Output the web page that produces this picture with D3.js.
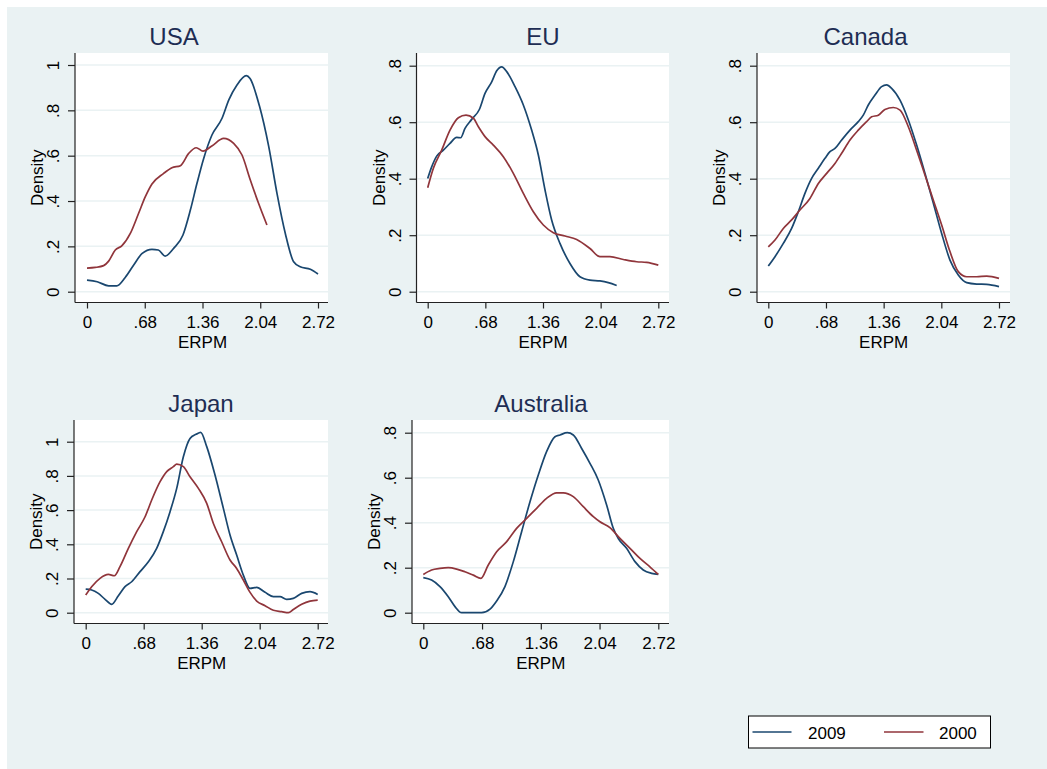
<!DOCTYPE html>
<html><head><meta charset="utf-8">
<script src="https://cdn.jsdelivr.net/npm/d3@7"></script>
<style>html,body{margin:0;padding:0;background:#fff}svg{display:block}text{font-family:"Liberation Sans",Arial,Helvetica,sans-serif}</style>
</head><body>
<script>
// ---------- data (x = ERPM, y = density) ----------
const seriesNames = ["2009", "2000"];
const xTicks = [0, 0.68, 1.36, 2.04, 2.72];
const xTickLabels = ["0", ".68", "1.36", "2.04", "2.72"];
const yTicks1 = [0, 0.2, 0.4, 0.6, 0.8, 1];
const yTicks08 = [0, 0.2, 0.4, 0.6, 0.8];

const usa2009 = [[0,0.051],[0.12,0.044],[0.255,0.026],[0.35,0.026],[0.45,0.063],[0.55,0.118],[0.65,0.169],[0.765,0.187],[0.84,0.184],[0.92,0.157],[1.02,0.191],[1.13,0.25],[1.217,0.36],[1.295,0.478],[1.374,0.588],[1.47,0.69],[1.59,0.765],[1.67,0.846],[1.766,0.912],[1.876,0.953],[1.92,0.94],[2.03,0.82],[2.14,0.64],[2.237,0.434],[2.335,0.257],[2.433,0.132],[2.51,0.11],[2.63,0.099],[2.72,0.078]];
const usa2000 = [[0,0.104],[0.098,0.107],[0.196,0.115],[0.255,0.135],[0.333,0.184],[0.412,0.203],[0.51,0.257],[0.608,0.346],[0.687,0.419],[0.765,0.475],[0.903,0.522],[1.0,0.547],[1.1,0.556],[1.197,0.61],[1.287,0.635],[1.366,0.62],[1.47,0.643],[1.609,0.676],[1.727,0.654],[1.825,0.603],[1.923,0.493],[2.02,0.39],[2.119,0.294]];

const eu2009 = [[0,0.401],[0.047,0.442],[0.106,0.48],[0.185,0.501],[0.263,0.525],[0.342,0.546],[0.389,0.545],[0.44,0.578],[0.519,0.61],[0.609,0.645],[0.676,0.702],[0.755,0.743],[0.814,0.782],[0.873,0.796],[0.932,0.779],[1.03,0.726],[1.128,0.661],[1.226,0.572],[1.305,0.484],[1.384,0.36],[1.462,0.254],[1.56,0.171],[1.678,0.1],[1.796,0.053],[1.914,0.041],[2.032,0.038],[2.13,0.032],[2.229,0.022]];
const eu2000 = [[0,0.368],[0.067,0.437],[0.165,0.501],[0.263,0.572],[0.362,0.616],[0.452,0.625],[0.539,0.614],[0.598,0.584],[0.676,0.549],[0.774,0.519],[0.892,0.478],[1.01,0.419],[1.128,0.348],[1.246,0.283],[1.364,0.236],[1.482,0.209],[1.62,0.197],[1.757,0.185],[1.914,0.153],[2.032,0.124],[2.15,0.124],[2.307,0.114],[2.465,0.106],[2.583,0.104],[2.72,0.094]];

const canada2009 = [[0,0.091],[0.079,0.124],[0.177,0.171],[0.275,0.224],[0.354,0.283],[0.432,0.348],[0.511,0.401],[0.59,0.437],[0.668,0.472],[0.727,0.496],[0.786,0.507],[0.865,0.537],[0.963,0.572],[1.061,0.602],[1.12,0.625],[1.179,0.661],[1.258,0.696],[1.336,0.726],[1.395,0.732],[1.454,0.72],[1.553,0.678],[1.651,0.608],[1.749,0.519],[1.847,0.419],[1.946,0.313],[2.044,0.206],[2.142,0.112],[2.24,0.059],[2.339,0.032],[2.457,0.027],[2.575,0.026],[2.72,0.018]];
const canada2000 = [[0,0.159],[0.079,0.183],[0.177,0.224],[0.275,0.254],[0.373,0.289],[0.491,0.33],[0.59,0.383],[0.688,0.419],[0.786,0.454],[0.865,0.49],[0.963,0.537],[1.061,0.572],[1.159,0.602],[1.218,0.619],[1.297,0.625],[1.375,0.645],[1.474,0.652],[1.553,0.643],[1.651,0.584],[1.749,0.501],[1.847,0.413],[1.946,0.324],[2.044,0.236],[2.142,0.142],[2.24,0.071],[2.339,0.053],[2.457,0.053],[2.575,0.055],[2.72,0.047]];

const japan2009 = [[0,0.138],[0.07,0.133],[0.148,0.113],[0.227,0.078],[0.305,0.049],[0.383,0.099],[0.461,0.152],[0.539,0.181],[0.637,0.24],[0.735,0.298],[0.832,0.376],[0.91,0.474],[0.989,0.591],[1.067,0.727],[1.145,0.912],[1.223,1.019],[1.294,1.043],[1.348,1.055],[1.419,0.971],[1.516,0.805],[1.614,0.61],[1.692,0.454],[1.77,0.337],[1.848,0.22],[1.927,0.142],[2.005,0.148],[2.103,0.119],[2.2,0.094],[2.278,0.094],[2.356,0.078],[2.434,0.084],[2.532,0.113],[2.63,0.123],[2.72,0.107]];
const japan2000 = [[0,0.103],[0.07,0.152],[0.168,0.201],[0.266,0.224],[0.336,0.216],[0.402,0.269],[0.5,0.376],[0.598,0.474],[0.696,0.561],[0.774,0.659],[0.872,0.766],[0.95,0.825],[1.028,0.854],[1.067,0.869],[1.145,0.854],[1.223,0.795],[1.321,0.727],[1.419,0.639],[1.497,0.522],[1.594,0.415],[1.692,0.308],[1.77,0.259],[1.848,0.191],[1.927,0.119],[2.005,0.068],[2.103,0.041],[2.2,0.014],[2.298,0.006],[2.376,0.0],[2.434,0.019],[2.532,0.049],[2.63,0.068],[2.72,0.074]];

const australia2009 = [[0,0.156],[0.096,0.145],[0.193,0.116],[0.289,0.071],[0.367,0.027],[0.444,0],[0.54,0],[0.675,0],[0.772,0.016],[0.849,0.052],[0.945,0.116],[1.042,0.227],[1.138,0.36],[1.235,0.493],[1.331,0.612],[1.427,0.716],[1.524,0.782],[1.582,0.79],[1.667,0.8],[1.736,0.79],[1.833,0.73],[1.929,0.664],[2.025,0.59],[2.122,0.479],[2.199,0.375],[2.257,0.33],[2.353,0.286],[2.45,0.227],[2.546,0.19],[2.643,0.175],[2.72,0.17]];
const australia2000 = [[0,0.17],[0.096,0.19],[0.193,0.197],[0.289,0.2],[0.386,0.194],[0.482,0.182],[0.579,0.167],[0.667,0.153],[0.752,0.212],[0.849,0.271],[0.965,0.316],[1.08,0.375],[1.196,0.419],[1.312,0.464],[1.427,0.508],[1.543,0.533],[1.62,0.533],[1.736,0.516],[1.852,0.471],[1.968,0.427],[2.045,0.404],[2.16,0.378],[2.276,0.33],[2.392,0.286],[2.508,0.241],[2.623,0.204],[2.72,0.17]];

const panelTitles = ["USA", "EU", "Canada", "Japan", "Australia"];

// ---------- layout ----------
const W = 1047, H = 769;
const colors = {"2009": "#1a476f", "2000": "#90353b"};
const bg = "#eaf2f3";
const panels = [
  {title: "USA", s09: usa2009, s00: usa2000, yTicks: yTicks1, yMax: 1, x: [87, 318], y: [291.7, 65], plot: [75, 53, 328, 302.5], titleX: 174, titleY: 45},
  {title: "EU", s09: eu2009, s00: eu2000, yTicks: yTicks08, yMax: 0.8, x: [427.7, 658.3], y: [291.7, 65.7], plot: [416.5, 53, 669, 302.5], titleX: 543, titleY: 45},
  {title: "Canada", s09: canada2009, s00: canada2000, yTicks: yTicks08, yMax: 0.8, x: [768.3, 999], y: [291.7, 65.7], plot: [757, 53, 1010, 302.5], titleX: 865.5, titleY: 45},
  {title: "Japan", s09: japan2009, s00: japan2000, yTicks: yTicks1, yMax: 1, x: [85.7, 317.7], y: [612.7, 441.7], plot: [74, 420, 328, 623.5], titleX: 201, titleY: 412},
  {title: "Australia", s09: australia2009, s00: australia2000, yTicks: yTicks08, yMax: 0.8, x: [423.3, 658.3], y: [612.7, 432.7], plot: [412, 420, 669, 623.5], titleX: 541, titleY: 412}
];

const svg = d3.select("body").append("svg").attr("width", W).attr("height", H);
svg.append("rect").attr("x", 0).attr("y", 0).attr("width", W).attr("height", H).attr("fill", "#fff");
svg.append("rect").attr("x", 7).attr("y", 7).attr("width", W - 7).attr("height", H - 7).attr("fill", bg);

const fmt = v => v === 0 ? "0" : (v === 1 ? "1" : d3.format(".1f")(v).replace(/^0/, ""));

panels.forEach(p => {
  const xs = d3.scaleLinear().domain([0, 2.72]).range(p.x);
  const ys = d3.scaleLinear().domain([0, p.yMax]).range(p.y);
  const [L, T, R, B] = p.plot;
  const g = svg.append("g");
  g.append("rect").attr("x", L).attr("y", T).attr("width", R - L).attr("height", B - T).attr("fill", "#fff");
  // gridlines
  g.selectAll(".grid").data(p.yTicks).enter().append("line")
    .attr("x1", L + 1).attr("x2", R).attr("y1", d => ys(d)).attr("y2", d => ys(d))
    .attr("stroke", bg).attr("stroke-width", 1.5);
  // y axis
  const yAxis = d3.axisLeft(ys).tickValues(p.yTicks).tickSize(7).tickFormat(fmt);
  const ya = g.append("g").attr("transform", `translate(${L},0)`).call(yAxis);
  ya.select(".domain").attr("d", `M0,${T}V${B}`).attr("stroke", "#222").attr("stroke-width", 1.2);
  ya.selectAll(".tick line").attr("stroke", "#222").attr("stroke-width", 1.2);
  ya.selectAll(".tick text").attr("x", null).attr("dy", null)
    .attr("transform", "translate(-16,0) rotate(-90)")
    .attr("text-anchor", "middle").attr("font-size", 17).attr("fill", "#000")
    .style("font-family", "'Liberation Sans', Arial, sans-serif");
  // x axis
  const xAxis = d3.axisBottom(xs).tickValues(xTicks).tickSize(6).tickFormat((d, i) => xTickLabels[i]);
  const xa = g.append("g").attr("transform", `translate(0,${B})`).call(xAxis);
  xa.select(".domain").attr("d", `M${L},0H${R}`).attr("stroke", "#222").attr("stroke-width", 1.2);
  xa.selectAll(".tick line").attr("stroke", "#222").attr("stroke-width", 1.2);
  xa.selectAll(".tick text").attr("y", 25).attr("dy", null)
    .attr("font-size", 17).attr("fill", "#000")
    .style("font-family", "'Liberation Sans', Arial, sans-serif");
  // axis titles
  g.append("text").attr("x", (p.x[0] + p.x[1]) / 2).attr("y", B + 45)
    .attr("text-anchor", "middle").attr("font-size", 17).attr("fill", "#000").text("ERPM");
  g.append("text").attr("transform", `translate(${L - 32},${(T + B) / 2}) rotate(-90)`)
    .attr("text-anchor", "middle").attr("font-size", 17).attr("fill", "#000").text("Density");
  // title
  g.append("text").attr("x", p.titleX).attr("y", p.titleY).attr("text-anchor", "middle")
    .attr("font-size", 24).attr("fill", "#1e2d53").text(p.title);
  // curves
  const line = d3.line().x(d => xs(d[0])).y(d => ys(d[1])).curve(d3.curveMonotoneX);
  [["2009", p.s09], ["2000", p.s00]].forEach(([name, data]) => {
    g.append("path").datum(data).attr("d", line).attr("fill", "none")
      .attr("stroke", colors[name]).attr("stroke-width", 1.7).attr("stroke-linejoin", "round");
  });
});

// legend
const lg = svg.append("g");
lg.append("rect").attr("x", 748.5).attr("y", 716).attr("width", 242).attr("height", 32)
  .attr("fill", "#fff").attr("stroke", "#000").attr("stroke-width", 1);
const legX = [[752.5, 791.5, 808], [884, 923.5, 939]];
seriesNames.forEach((n, i) => {
  lg.append("line").attr("x1", legX[i][0]).attr("x2", legX[i][1]).attr("y1", 732).attr("y2", 732)
    .attr("stroke", colors[n]).attr("stroke-width", 1.7);
  lg.append("text").attr("x", legX[i][2]).attr("y", 739).attr("font-size", 17).attr("fill", "#000").text(n);
});
</script>
</body></html>
